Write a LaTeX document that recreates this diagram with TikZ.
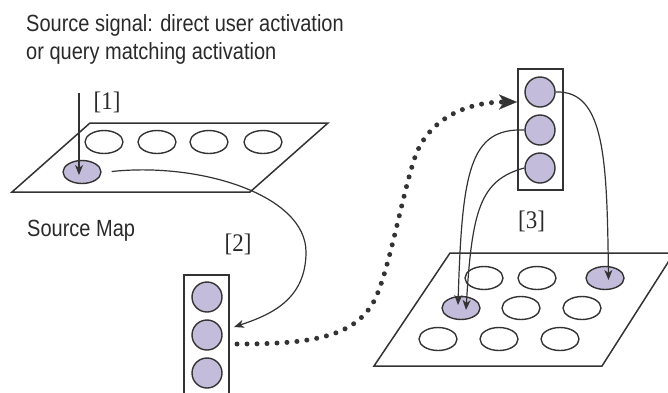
\documentclass[tikz,border=0pt]{standalone}
\usepackage{fontspec}
\setmainfont{Liberation Serif}
\setsansfont{Liberation Sans}
\usetikzlibrary{shapes.geometric,arrows.meta,calc}
\definecolor{ink}{HTML}{333333}
\definecolor{txt}{HTML}{2A2A2A}
\definecolor{lav}{HTML}{C4BCDB}
\begin{document}
\begin{tikzpicture}[x=1pt,y=-1pt,
  every node/.style={inner sep=0pt},
  cell/.style={ellipse, draw=ink, line width=1.4pt, minimum width=38pt, minimum height=23pt},
  on/.style={fill=lav},
  unit/.style={circle, draw=ink, line width=1.4pt, fill=lav, minimum size=30pt},
  col/.style={rectangle, draw=ink, line width=1.4pt, minimum width=45pt},
  plane/.style={draw=ink, line width=1.5pt, line join=miter},
  link/.style={draw=ink, line width=1.2pt, -{Stealth[length=10pt,width=8pt,inset=3pt]}},
  flow/.style={draw=ink, line width=5pt, line cap=round, dash pattern=on 0pt off 10pt,
    -{Stealth[length=18pt,width=15pt,inset=5pt,line width=0.1pt]}},
  lbl/.style={font=\fontsize{20}{24}\selectfont\sffamily, text=txt, anchor=base west},
  num/.style={font=\fontsize{23}{27}\selectfont\rmfamily, text=txt}]
\useasboundingbox (0,0) rectangle (668,392);
\clip (0,0) rectangle (668,392);

% texts
\node[lbl] (sig1) at (26,31) {\scalebox{1}[1.17]{Source signal: direct user activation}};
\node[lbl] (sig2) at (26,59.3) {\scalebox{1}[1.17]{or query matching activation}};
\node[lbl] (smap) at (27,236) {\scalebox{1}[1.17]{Source Map}};
\node[num] (n1) at (107,102.5) {\scalebox{1}[1.1]{[1]}};
\node[num] (n2) at (238,244) {\scalebox{1}[1.1]{[2]}};
\node[num] (n3) at (531.5,221) {\scalebox{1}[1.1]{[3]}};

% source map
\draw[plane] (90,123) -- (328,123) -- (250,192) -- (12,192) -- cycle;
\node[cell] (s1) at (104,142) {};
\node[cell] (s2) at (157,142) {};
\node[cell] (s3) at (209,142) {};
\node[cell] (s4) at (263,142) {};
\node[cell,on] (sa) at (82,172) {};

% target map
\draw[plane] (450,253) -- (674,253) -- (602,366) -- (374,366) -- cycle;
\node[cell] (t1a) at (484,278) {};
\node[cell] (t1b) at (537,278) {};
\node[cell,on] (t1c) at (605,278) {};
\node[cell,on] (t2a) at (461,308) {};
\node[cell] (t2b) at (521,308) {};
\node[cell] (t2c) at (582,308) {};
\node[cell] (t3a) at (438,339) {};
\node[cell] (t3b) at (499,339) {};
\node[cell] (t3c) at (560,339) {};

% column [2]
\node[col, minimum height=130pt] (b2) at (206.5,340) {};
\node[unit] (u2a) at (207,297) {};
\node[unit] (u2b) at (207,335) {};
\node[unit] (u2c) at (207,373) {};

% column [3]
\node[col, minimum height=121pt] (b3) at (540.5,129.5) {};
\node[unit] (u3a) at (540,92) {};
\node[unit] (u3b) at (540,130) {};
\node[unit] (u3c) at (540,168) {};

% connectors
\coordinate (in1) at (79,93);
\draw[link, shorten >=-3pt] (in1) -- (in1 |- sa.center);

\coordinate (t2) at (234,327);
\draw[link] ($(sa.east)+(10,-0.5)$) .. controls (200,162) and (306,195) .. (306,252)
  .. controls (306,300) and (270,315) .. (t2);

\coordinate (d0) at (237,344);
\coordinate (t3) at (517,102);
\draw[flow] (d0) .. controls (310,344) and (352.6,337.4) .. (373,303)
  .. controls (388,277) and (402,195) .. (415,157)
  .. controls (428,120) and (465,102) .. (t3);

\draw[link] (u3a.east) .. controls (605,90) and (607,160) .. ($(t1c.center)+(3.5,2)$);
\draw[link] (u3b.west) .. controls (470,128) and (462,170) .. ($(t2a.center)+(-3,-3)$);
\draw[link] (u3c.west) .. controls (480,180) and (472,210) .. ($(t2a.center)+(5,2)$);
\end{tikzpicture}
\end{document}
